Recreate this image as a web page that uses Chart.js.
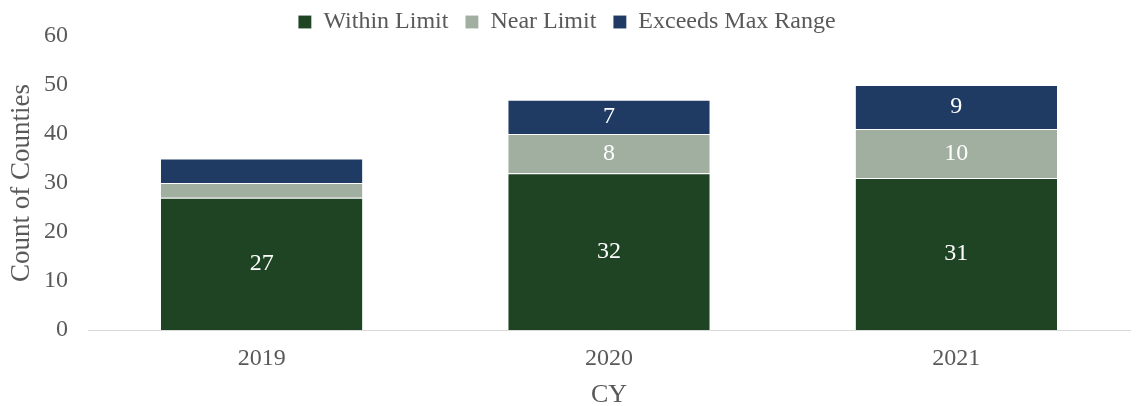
<!DOCTYPE html>
<html>
<head>
<meta charset="utf-8">
<script src="https://cdn.jsdelivr.net/npm/chart.js@4.4.0/dist/chart.umd.min.js"></script>
<style>
html,body{margin:0;padding:0;background:#fff;}
#wrap{width:1138px;height:406px;}
</style>
</head>
<body>
<div id="wrap"><canvas id="grafico" width="1138" height="406"></canvas></div>
<script>
// counties per calendar year, stacked by status
const anos = ["2019", "2020", "2021"];
const dentro = [27, 32, 31];
const perto = [3, 8, 10];
const excede = [5, 7, 9];
const yTicks = [0, 10, 20, 30, 40, 50, 60];

// small segments are left without a number
const minRotulo = 6;
const fonte = "'Liberation Serif'";
const cinza = "#595959";

const rotulos = {
  id: "rotulos",
  afterDatasetsDraw(chart){
    const ctx = chart.ctx;
    ctx.save();
    ctx.fillStyle = "#ffffff";
    ctx.font = "24px " + fonte;
    ctx.textAlign = "center";
    ctx.textBaseline = "middle";
    chart.data.datasets.forEach((ds, i) => {
      chart.getDatasetMeta(i).data.forEach((bar, j) => {
        const v = ds.data[j];
        if (v < minRotulo) return;
        ctx.fillText(String(v), bar.x, (bar.y + bar.base) / 2);
      });
    });
    ctx.restore();
  }
};

// legend strip: fixed height, drawn without clipping
const legendaBaixa = {
  id: "legendaBaixa",
  afterInit(chart){
    const lg = chart.legend;
    const fit = lg.fit.bind(lg);
    lg.fit = function(){
      fit();
      this.height = 43;
    };
    lg.draw = function(){
      if (this.options.display) this._draw();
    };
  }
};

new Chart(
document.getElementById("grafico"),
{
type: "bar",
data: {
  labels: anos,
  datasets: [
    {label: "Within Limit", data: dentro, backgroundColor: "#1f4424"},
    {label: "Near Limit", data: perto, backgroundColor: "#a0afa0"},
    {label: "Exceeds Max Range", data: excede, backgroundColor: "#1f3b63"}
  ].map(d => Object.assign(d, {
    borderColor: "rgba(255,255,255,0.5)",
    borderWidth: {top: 1, left: 0, right: 0, bottom: 0},
    borderSkipped: false,
    categoryPercentage: 0.58,
    barPercentage: 1
  }))
},
options: {
  responsive: false,
  animation: false,
  layout: {padding: {left: 4, right: 8, top: -7, bottom: -5}},
  plugins: {
    legend: {
      display: true,
      position: "top",
      labels: {
        font: {family: fonte, size: 24},
        color: cinza,
        boxWidth: 13,
        boxHeight: 13,
        padding: 17
      }
    },
    tooltip: {enabled: false}
  },
  scales: {
    x: {
      stacked: true,
      grid: {display: false},
      border: {display: true, color: "#d9d9d9", width: 1},
      ticks: {font: {family: fonte, size: 24}, color: cinza, padding: 6},
      title: {display: true, text: "CY", font: {family: fonte, size: 26}, color: cinza, padding: {top: 1, bottom: 0}}
    },
    y: {
      stacked: true,
      min: 0,
      max: 60,
      afterBuildTicks(axis){ axis.ticks = yTicks.map(v => ({value: v})); },
      afterFit(axis){ axis.width = 84; },
      grid: {display: false},
      border: {display: false},
      ticks: {font: {family: fonte, size: 24}, color: cinza, padding: 12},
      title: {display: true, text: "Count of Counties", font: {family: fonte, size: 27}, color: cinza, padding: {top: 2, bottom: 2}}
    }
  }
},
plugins: [rotulos, legendaBaixa]
}
);
</script>
</body>
</html>
